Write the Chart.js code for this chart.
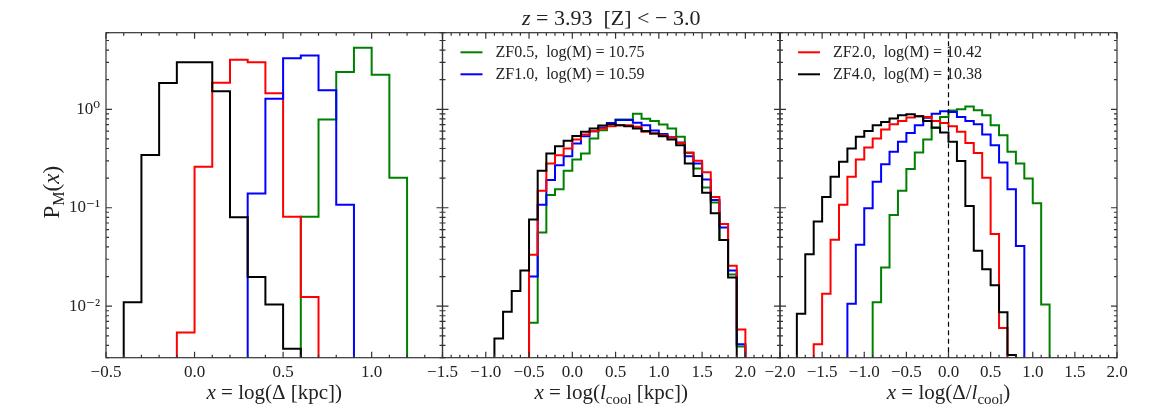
<!DOCTYPE html>
<html>
<head>
<meta charset="utf-8">
<script src="https://cdn.jsdelivr.net/npm/chart.js@4.4.1/dist/chart.umd.min.js"></script>
<style>
  html, body { margin: 0; padding: 0; background: #fff; }
  #wrap { position: relative; width: 1172px; height: 406px; }
  #wrap canvas { position: absolute; left: 0; top: 0; }
</style>
</head>
<body>
<div id="wrap">
  <canvas id="panelDelta" width="1172" height="406"></canvas>
  <canvas id="panelCool" width="1172" height="406"></canvas>
  <canvas id="panelRatio" width="1172" height="406"></canvas>
</div>
<script>
// --- data (bin edges, then P_M per bin) ---
const deltaEdges = [-0.4, -0.3, -0.2, -0.1, 0.0, 0.1, 0.2, 0.3, 0.4, 0.5, 0.6, 0.7, 0.8, 0.9, 1.0, 1.1, 1.2];
const deltaZF05 = [0, 0, 0, 0, 0, 0, 0, 0, 0, 0, 0.081, 0.79, 2.39, 4.21, 2.24, 0.202];
const deltaZF10 = [0, 0, 0, 0, 0, 0, 0, 0.140, 1.28, 3.31, 3.52, 1.56, 0.107, 0, 0, 0];
const deltaZF20 = [0, 0, 0, 0.0054, 0.261, 1.86, 3.18, 3.01, 1.46, 0.081, 0.0124, 0, 0, 0, 0, 0];
const deltaZF40 = [0.011, 0.343, 1.85, 3.01, 3.01, 1.53, 0.080, 0.0198, 0.0104, 0.0037, 0, 0, 0, 0, 0, 0];

const coolEdges = [-0.9, -0.8, -0.7, -0.6, -0.5, -0.4, -0.3, -0.2, -0.1, 0.0, 0.1, 0.2, 0.3, 0.4, 0.5,
                   0.6, 0.7, 0.8, 0.9, 1.0, 1.1, 1.2, 1.3, 1.4, 1.5, 1.6, 1.7, 1.8, 1.9, 2.0];
const coolZF05 = [0, 0, 0, 0, 0.0068, 0.056, 0.135, 0.154, 0.238, 0.309, 0.356, 0.505, 0.613, 0.727, 0.79,
                  0.79, 0.90, 0.80, 0.76, 0.70, 0.637, 0.525, 0.36, 0.25, 0.161, 0.113, 0.047, 0.021, 0.0039];
const coolZF10 = [0, 0, 0, 0, 0.020, 0.107, 0.191, 0.271, 0.334, 0.449, 0.533, 0.599, 0.652, 0.727, 0.78,
                  0.78, 0.73, 0.69, 0.61, 0.56, 0.52, 0.46, 0.334, 0.282, 0.194, 0.12, 0.063, 0.0231, 0.0041];
const coolZF20 = [0, 0, 0, 0, 0.0333, 0.149, 0.282, 0.342, 0.40, 0.493, 0.554, 0.60, 0.637, 0.673, 0.689,
                  0.689, 0.665, 0.59, 0.567, 0.545, 0.517, 0.456, 0.364, 0.30, 0.229, 0.129, 0.0686, 0.0258, 0.0058];
const coolZF40 = [0.0047, 0.0088, 0.0143, 0.0231, 0.076, 0.238, 0.356, 0.422, 0.478, 0.537, 0.59, 0.637, 0.684, 0.705, 0.689,
                  0.673, 0.637, 0.603, 0.567, 0.533, 0.493, 0.432, 0.282, 0.21, 0.142, 0.088, 0.047, 0.0196, 0];

const ratioEdges = [-1.8, -1.7, -1.6, -1.5, -1.4, -1.3, -1.2, -1.1, -1.0, -0.9, -0.8, -0.7, -0.6, -0.5, -0.4, -0.3,
                    -0.2, -0.1, 0.0, 0.1, 0.2, 0.3, 0.4, 0.5, 0.6, 0.7, 0.8, 0.9, 1.0, 1.1, 1.2];
const ratioZF05 = [0, 0, 0, 0, 0, 0, 0, 0, 0, 0.011, 0.0248, 0.0846, 0.149, 0.247, 0.364, 0.493,
                   0.652, 0.836, 0.97, 1.0, 1.07, 0.98, 0.87, 0.689, 0.545, 0.37, 0.282, 0.198, 0.111, 0.0104];
const ratioZF10 = [0, 0, 0, 0, 0, 0, 0.0106, 0.042, 0.0988, 0.184, 0.277, 0.37, 0.467, 0.575, 0.689, 0.82,
                   0.904, 0.954, 0.94, 0.836, 0.762, 0.705, 0.554, 0.432, 0.288, 0.154, 0.041, 0, 0, 0];
const ratioZF20 = [0, 0, 0.0041, 0.0134, 0.0472, 0.107, 0.206, 0.309, 0.409, 0.505, 0.622, 0.705, 0.762, 0.824, 0.85, 0.836,
                   0.762, 0.727, 0.673, 0.59, 0.456, 0.361, 0.202, 0.0543, 0.006, 0, 0, 0, 0, 0];
const ratioZF40 = [0.0084, 0.0338, 0.0724, 0.129, 0.206, 0.293, 0.40, 0.525, 0.603, 0.689, 0.745, 0.805, 0.87, 0.89, 0.85, 0.76,
                   0.65, 0.58, 0.467, 0.298, 0.104, 0.0366, 0.0238, 0.0163, 0.0087, 0.0032, 0, 0, 0, 0];

const seriesNames = ['ZF0.5,  log(M) = 10.75', 'ZF1.0,  log(M) = 10.59', 'ZF2.0,  log(M) = 10.42', 'ZF4.0,  log(M) = 10.38'];
const seriesColors = ['#008000', '#0000ff', '#ff0000', '#000000'];

const deltaTicks = [-0.5, 0.0, 0.5, 1.0];
const deltaTickLabels = ['\u22120.5', '0.0', '0.5', '1.0'];
const coolTicks = [-1.5, -1.0, -0.5, 0.0, 0.5, 1.0, 1.5, 2.0];
const coolTickLabels = ['\u22121.5', '\u22121.0', '\u22120.5', '0.0', '0.5', '1.0', '1.5', '2.0'];
const ratioTicks = [-2.0, -1.5, -1.0, -0.5, 0.0, 0.5, 1.0, 1.5, 2.0];
const ratioTickLabels = ['\u22122.0', '\u22121.5', '\u22121.0', '\u22120.5', '0.0', '0.5', '1.0', '1.5', '2.0'];
const yTicks = [1, 0.1, 0.01];
const yTickLabels = ['10\u2070', '10\u207B\u00B9', '10\u207B\u00B2'];
const yMin = 0.003, yMax = 6;

const SERIF = '"Liberation Serif", "DejaVu Serif", serif';
const INK = '#222';
const FLOOR = 1e-6; // empty bins fall below the axis, like matplotlib step hist

function stepPoints(edges, counts) {
  const pts = [{ x: edges[0], y: FLOOR }];
  counts.forEach((c, i) => pts.push({ x: edges[i], y: c > 0 ? c : FLOOR }));
  pts.push({ x: edges[edges.length - 1], y: FLOOR });
  return pts;
}

function drawRich(ctx, parts, x, y, size, align) {
  let w = 0;
  const fontOf = p => (p.i ? 'italic ' : '') + (p.sub ? Math.round(size * 0.7) : size) + 'px ' + SERIF;
  parts.forEach(p => { ctx.font = fontOf(p); p.w = ctx.measureText(p.t).width; w += p.w; });
  let cx = align === 'center' ? x - w / 2 : x;
  ctx.textAlign = 'left';
  ctx.textBaseline = 'alphabetic';
  parts.forEach(p => {
    ctx.font = fontOf(p);
    ctx.fillText(p.t, cx, y + (p.sub ? size * 0.22 : 0));
    cx += p.w;
  });
}

function makePanel(id, cfg) {
  const datasets = cfg.series.map(s => ({
    label: seriesNames[s.k],
    data: stepPoints(cfg.edges, s.v),
    borderColor: seriesColors[s.k],
    borderWidth: 2,
    stepped: 'before',
    pointRadius: 0,
    fill: false,
    borderJoinStyle: 'miter',
    borderCapStyle: 'butt'
  }));

  const decor = {
    id: 'decor',
    afterDatasetsDraw(chart) {
      if (cfg.refLine === undefined) return;
      const { ctx, chartArea: a, scales: { x } } = chart;
      const px = x.getPixelForValue(cfg.refLine);
      ctx.save();
      ctx.strokeStyle = '#000';
      ctx.lineWidth = 1.2;
      ctx.setLineDash([5, 3.5]);
      ctx.beginPath();
      ctx.moveTo(px, a.top);
      ctx.lineTo(px, a.bottom);
      ctx.stroke();
      ctx.restore();
    },
    afterDraw(chart) {
      const { ctx, chartArea: a, scales: { x, y } } = chart;
      ctx.save();
      ctx.strokeStyle = '#333';
      ctx.lineWidth = 1.2;
      ctx.strokeRect(a.left, a.top, a.right - a.left, a.bottom - a.top);

      // inward ticks on all four sides
      ctx.beginPath();
      const xTick = (v, len) => {
        const px = x.getPixelForValue(v);
        ctx.moveTo(px, a.bottom); ctx.lineTo(px, a.bottom - len);
        ctx.moveTo(px, a.top); ctx.lineTo(px, a.top + len);
      };
      const yTick = (v, len) => {
        const py = y.getPixelForValue(v);
        ctx.moveTo(a.left, py); ctx.lineTo(a.left + len, py);
        ctx.moveTo(a.right, py); ctx.lineTo(a.right - len, py);
      };
      for (let k = Math.ceil(cfg.xMin * 10 - 1e-6); k <= Math.floor(cfg.xMax * 10 + 1e-6); k++) {
        xTick(k / 10, k % 5 === 0 ? 6 : 3);
      }
      for (let d = -3; d <= 0; d++) {
        for (let m = 1; m <= 9; m++) {
          const v = m * Math.pow(10, d);
          if (v >= yMin && v <= yMax) yTick(v, m === 1 ? 6 : 3);
        }
      }
      ctx.stroke();

      // legend inside the panel
      ctx.fillStyle = INK;
      (cfg.legend || []).forEach((k, i) => {
        const ly = a.top + 19.6 + i * 22;
        ctx.strokeStyle = seriesColors[k];
        ctx.lineWidth = 2;
        ctx.beginPath();
        ctx.moveTo(a.left + 18, ly);
        ctx.lineTo(a.left + 40, ly);
        ctx.stroke();
        ctx.font = '16px ' + SERIF;
        ctx.textAlign = 'left';
        ctx.textBaseline = 'middle';
        ctx.fillText(seriesNames[k], a.left + 53, ly);
      });

      // axis title and figure texts
      ctx.fillStyle = INK;
      drawRich(ctx, cfg.xTitle, (a.left + a.right) / 2, 399, 21, 'center');
      if (cfg.title) drawRich(ctx, cfg.title, (a.left + a.right) / 2, 25, 22, 'center');
      if (cfg.yTitle) {
        ctx.save();
        ctx.translate(59, (a.top + a.bottom) / 2 - 3);
        ctx.rotate(-Math.PI / 2);
        drawRich(ctx, cfg.yTitle, 0, 0, 23, 'center');
        ctx.restore();
      }
      ctx.restore();
    }
  };

  return new Chart(document.getElementById(id), {
    type: 'line',
    data: { datasets },
    options: {
      responsive: false,
      animation: false,
      events: [],
      layout: { padding: cfg.padding },
      plugins: { legend: { display: false }, title: { display: false }, tooltip: { enabled: false } },
      scales: {
        x: {
          type: 'linear',
          min: cfg.xMin,
          max: cfg.xMax,
          grid: { display: false, drawTicks: false },
          border: { display: false },
          afterBuildTicks: scale => { scale.ticks = cfg.ticks.map(v => ({ value: v })); },
          afterFit: scale => { scale.height = 30; },
          ticks: {
            autoSkip: false,
            maxRotation: 0,
            padding: 5,
            color: INK,
            font: { family: SERIF, size: 17 },
            callback: v => cfg.tickLabels[cfg.ticks.findIndex(t => Math.abs(t - v) < 1e-9)]
          }
        },
        y: {
          type: 'logarithmic',
          display: !!cfg.showY,
          min: yMin,
          max: yMax,
          grid: { display: false, drawTicks: false },
          border: { display: false },
          afterBuildTicks: scale => { scale.ticks = yTicks.map(v => ({ value: v })); },
          afterFit: scale => { scale.width = cfg.showY ? 60 : 0; },
          ticks: {
            autoSkip: false,
            padding: 6,
            color: INK,
            font: { family: SERIF, size: 17 },
            callback: v => yTickLabels[yTicks.findIndex(t => Math.abs(t - v) < 1e-12)]
          }
        }
      }
    },
    plugins: [decor]
  });
}

// panel boxes: x from 106 / 442.5 / 780 / 1117, y from 32.7 to 357.7
makePanel('panelDelta', {
  edges: deltaEdges,
  series: [{ k: 3, v: deltaZF40 }, { k: 1, v: deltaZF10 }, { k: 2, v: deltaZF20 }, { k: 0, v: deltaZF05 }],
  xMin: -0.5, xMax: 1.4,
  ticks: deltaTicks, tickLabels: deltaTickLabels,
  showY: true,
  padding: { left: 46, right: 1172 - 442.5, top: 32.7, bottom: 18.3 },
  xTitle: [{ t: 'x', i: true }, { t: ' = log(\u0394 [kpc])' }],
  yTitle: [{ t: 'P' }, { t: 'M', sub: true }, { t: '(' }, { t: 'x', i: true }, { t: ')' }]
});

makePanel('panelCool', {
  edges: coolEdges,
  series: [{ k: 3, v: coolZF40 }, { k: 2, v: coolZF20 }, { k: 1, v: coolZF10 }, { k: 0, v: coolZF05 }],
  xMin: -1.5, xMax: 2.4,
  ticks: coolTicks, tickLabels: coolTickLabels,
  padding: { left: 442.5, right: 1172 - 780, top: 32.7, bottom: 18.3 },
  legend: [0, 1],
  xTitle: [{ t: 'x', i: true }, { t: ' = log(' }, { t: 'l', i: true }, { t: 'cool', sub: true }, { t: ' [kpc])' }],
  title: [{ t: 'z', i: true }, { t: ' = 3.93  [Z] < \u2212 3.0' }]
});

makePanel('panelRatio', {
  edges: ratioEdges,
  series: [{ k: 3, v: ratioZF40 }, { k: 2, v: ratioZF20 }, { k: 1, v: ratioZF10 }, { k: 0, v: ratioZF05 }],
  xMin: -2.0, xMax: 2.0,
  ticks: ratioTicks, tickLabels: ratioTickLabels,
  padding: { left: 780, right: 1172 - 1117, top: 32.7, bottom: 18.3 },
  legend: [2, 3],
  refLine: 0,
  xTitle: [{ t: 'x', i: true }, { t: ' = log(\u0394/' }, { t: 'l', i: true }, { t: 'cool', sub: true }, { t: ')' }]
});
</script>
</body>
</html>
